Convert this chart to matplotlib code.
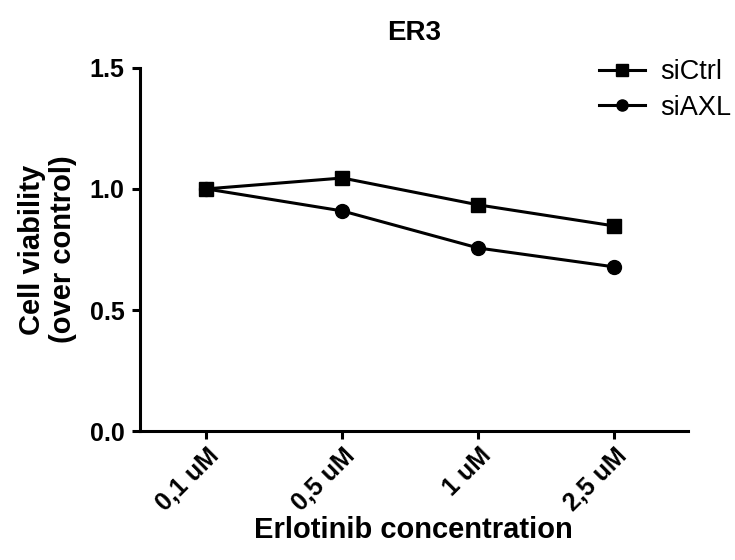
import numpy as np
import matplotlib.pyplot as plt

plt.rcParams['font.family'] = ['Liberation Sans', 'DejaVu Sans']

# Données
concentrations = ["0,1 uM", "0,5 uM", "1 uM", "2,5 uM"]
si_ctrl = [1.0, 1.045, 0.934, 0.847]
si_axl = [1.0, 0.909, 0.756, 0.678]

fig = plt.figure(figsize=(7.35, 5.6), dpi=100)
ax = fig.add_axes([0.190, 0.230, 0.746, 0.649])

x = np.arange(len(concentrations))
ax.plot(x, si_ctrl, color='black', linewidth=2.2, marker='s', markersize=10.5, label="siCtrl")
ax.plot(x, si_axl, color='black', linewidth=2.2, marker='o', markersize=10, label="siAXL")

ax.set_xlim(-0.49, 3.54)
ax.set_ylim(0, 1.5)
ax.set_yticks([0.0, 0.5, 1.0, 1.5])
ax.set_yticklabels(["0.0", "0.5", "1.0", "1.5"])
ax.set_xticks(x)
ax.set_xticklabels(concentrations, rotation=45, ha='right', va='top', rotation_mode='anchor')

for s in ['top', 'right']:
    ax.spines[s].set_visible(False)
for s in ['left', 'bottom']:
    ax.spines[s].set_linewidth(2.2)
ax.tick_params(width=2.2, length=6, labelsize=18, pad=3)
ax.tick_params(axis='y', pad=5)
for lab in ax.get_xticklabels() + ax.get_yticklabels():
    lab.set_fontweight('bold')

ax.set_title("ER3", fontsize=20, fontweight='bold', pad=20)
ax.set_xlabel("Erlotinib concentration", fontsize=21, fontweight='bold', labelpad=0)
ax.set_ylabel("Cell viability\n(over control)", fontsize=21, fontweight='bold', labelpad=9, linespacing=1.15)

leg = ax.legend(loc='center left', bbox_to_anchor=(0.797, 0.839), bbox_transform=fig.transFigure,
                frameon=False, fontsize=19.5, handlelength=1.7, handletextpad=0.55, labelspacing=0.35,
                markerscale=0.8, borderpad=0)

fig.savefig("out.png", dpi=100)
